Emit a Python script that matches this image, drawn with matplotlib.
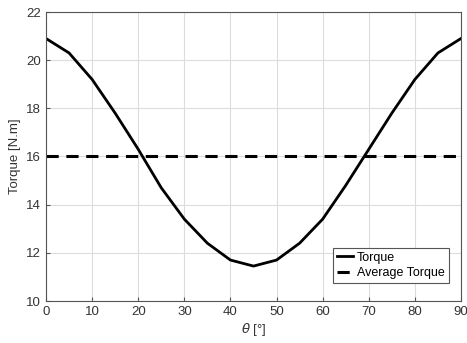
import matplotlib
matplotlib.use("Agg")
import matplotlib.pyplot as plt

theta = [0, 5, 10, 15, 20, 25, 30, 35, 40, 45, 50, 55, 60, 65, 70, 75, 80, 85, 90]
torque = [20.9, 20.3, 19.2, 17.8, 16.3, 14.7, 13.4, 12.4, 11.7, 11.45, 11.7, 12.4, 13.4, 14.8, 16.3, 17.8, 19.2, 20.3, 20.9]
avg_torque = 16.0
xticks = [0, 10, 20, 30, 40, 50, 60, 70, 80, 90]
yticks = [10, 12, 14, 16, 18, 20, 22]

plt.rcParams['font.family'] = ['Liberation Sans', 'DejaVu Sans']
fig = plt.figure(figsize=(4.67, 3.43), dpi=100)
ax = fig.add_axes([46/467, 42/343, 415/467, 289/343])

ax.plot(theta, torque, color='black', lw=2.0, label='Torque')
ax.axhline(avg_torque, color='black', lw=2.2, ls=(0, (4, 2.5)), label='Average Torque')

ax.set_xlim(0, 90)
ax.set_ylim(10, 22)
ax.set_xticks(xticks)
ax.set_yticks(yticks)
ax.grid(True, color='#dcdcdc', lw=0.8)
ax.set_axisbelow(True)
for s in ax.spines.values():
    s.set_color('#555555')
    s.set_linewidth(0.8)
ax.tick_params(direction='in', length=3, colors='#555555', labelcolor='#333333', labelsize=9.5)
ax.set_xlabel(r'$\theta$ [°]', fontsize=9.5, color='#333333', labelpad=2)
ax.set_ylabel('Torque [N.m]', fontsize=9.5, color='#333333', labelpad=4)

leg = ax.legend(loc='lower right', fontsize=9, handlelength=1.3, handletextpad=0.3,
                fancybox=False, edgecolor='#555555', framealpha=1, borderpad=0.3,
                labelspacing=0.3, bbox_to_anchor=(0.985, 0.04))
leg.get_frame().set_linewidth(0.8)

fig.savefig('out.png', dpi=100)
